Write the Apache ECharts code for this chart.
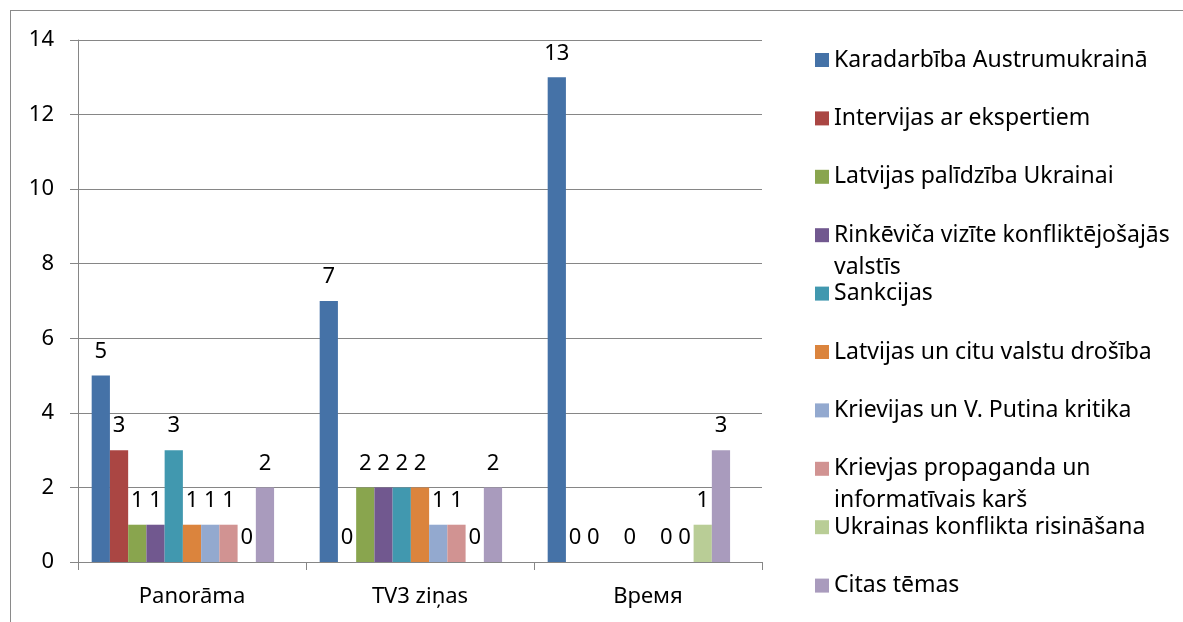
<!DOCTYPE html>
<html>
<head>
<meta charset="utf-8">
<script src="https://cdn.jsdelivr.net/npm/echarts@6/dist/echarts.min.js"></script>
<style>
  html, body { margin: 0; padding: 0; background: #fff; overflow: hidden; }
  #chart { position: absolute; left: 0; top: 0; width: 1183px; height: 622px; }
  #frame { position: absolute; left: 10px; top: 10px; width: 1300px; height: 800px; border: 1px solid #8a8a8a; pointer-events: none; }
</style>
</head>
<body>
<div id="frame"></div>
<div id="chart"></div>
<script>
const categories = ["Panorāma", "TV3 ziņas", "Время"];
const yTicks = [0, 2, 4, 6, 8, 10, 12, 14];

const seriesNames = [
  "Karadarbība Austrumukrainā",
  "Intervijas ar ekspertiem",
  "Latvijas palīdzība Ukrainai",
  "Rinkēviča vizīte konfliktējošajās valstīs",
  "Sankcijas",
  "Latvijas un citu valstu drošība",
  "Krievijas un V. Putina kritika",
  "Krievjas propaganda un informatīvais karš",
  "Ukrainas konflikta risināšana",
  "Citas tēmas",
];

// values per topic: Panorāma, TV3 ziņas, Время (null = no bar, no label)
const karadarbiba = [5, 7, 13];
const intervijas = [3, 0, 0];
const palidziba = [1, 2, 0];
const rinkevica = [1, 2, null];
const sankcijas = [3, 2, 0];
const drosiba = [1, 2, null];
const kritika = [1, 1, 0];
const propaganda = [1, 1, 0];
const risinasana = [0, 0, 1];
const citas = [2, 2, 3];

const seriesValues = [karadarbiba, intervijas, palidziba, rinkevica, sankcijas,
  drosiba, kritika, propaganda, risinasana, citas];

const colors = ["#4572A7", "#AA4643", "#89A54E", "#71588F", "#4198AF",
  "#DB843D", "#93A9CF", "#D19392", "#B9CD96", "#A99BBD"];

// legend text as wrapped in the original
const legendText = {
  "Rinkēviča vizīte konfliktējošajās valstīs": "Rinkēviča vizīte konfliktējošajās\nvalstīs",
  "Krievjas propaganda un informatīvais karš": "Krievjas propaganda un\ninformatīvais karš",
};

const FONT = "Noto Sans";
const LINE = 32;

const chart = echarts.init(document.getElementById("chart"));

const series = seriesNames.map((name, i) => ({
  name,
  type: "bar",
  data: seriesValues[i],
  barGap: 0,
  barCategoryGap: "12%",
  itemStyle: { color: colors[i] },
  label: {
    show: true,
    position: "top",
    distance: 13,
    color: "#000",
    fontSize: 22,
    fontFamily: FONT,
  },
}));
// empty slot that Excel leaves after the last series
series.push({ name: "_", type: "bar", data: categories.map(() => null), barGap: 0, barCategoryGap: "12%" });

// one legend per entry so the rows keep an even pitch even when a name wraps;
// wrapped names get an empty leading line so the marker sits on their first line
const legends = seriesNames.map((name, i) => {
  const twoLines = !!legendText[name];
  const center = 60 + 58.4 * i;
  return {
    data: [name],
    left: 815,
    top: twoLines ? center - LINE * 1.5 : center - LINE / 2,
    padding: 0,
    orient: "vertical",
    selectedMode: false,
    itemWidth: 14,
    itemHeight: 14,
    icon: "rect",
    formatter: (n) => (legendText[n] ? "\n" + legendText[n] : n),
    textStyle: { fontSize: 23, fontFamily: FONT, color: "#000", lineHeight: LINE },
  };
});

chart.setOption({
  animation: false,
  color: colors,
  textStyle: { fontFamily: FONT },
  grid: { left: 78, right: 421, top: 40, bottom: 60 },
  legend: legends,
  xAxis: {
    type: "category",
    data: categories,
    axisLine: { lineStyle: { color: "#868686", width: 1 } },
    axisTick: { show: true, length: 8, lineStyle: { color: "#868686" } },
    axisLabel: { margin: 24, fontSize: 22, fontFamily: FONT, color: "#000" },
  },
  yAxis: {
    type: "value",
    min: yTicks[0],
    max: yTicks[yTicks.length - 1],
    interval: yTicks[1] - yTicks[0],
    axisLine: { show: true, lineStyle: { color: "#868686", width: 1 } },
    axisTick: { show: true, length: 8, lineStyle: { color: "#868686" } },
    axisLabel: { margin: 24, fontSize: 22, fontFamily: FONT, color: "#000" },
    splitLine: { lineStyle: { color: "#868686", width: 1 } },
  },
  series,
});

window.addEventListener("resize", () => chart.resize());
</script>
</body>
</html>
